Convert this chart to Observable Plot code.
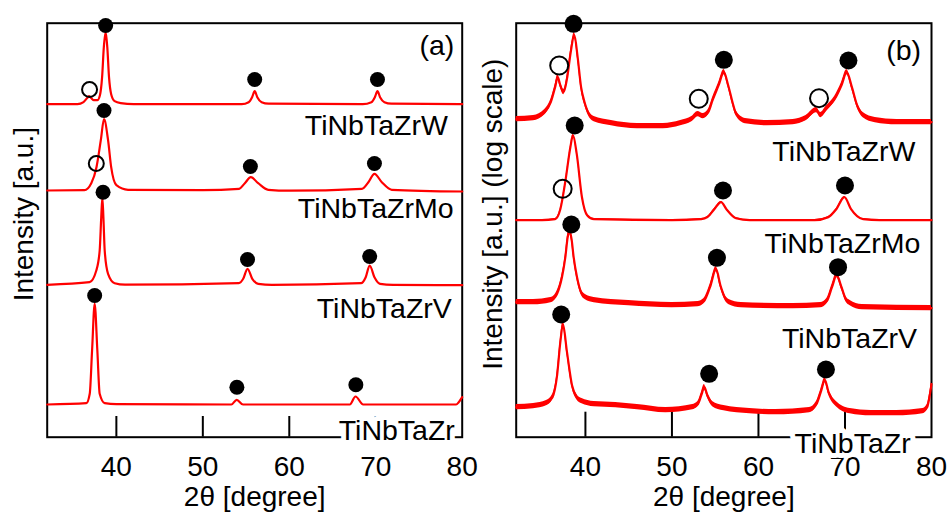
<!DOCTYPE html>
<html><head><meta charset="utf-8">
<script src="https://cdn.jsdelivr.net/npm/d3@7"></script>
<script src="https://cdn.jsdelivr.net/npm/@observablehq/plot@0.6"></script>
<style>
body{margin:0;background:#fff;}
#wrap{position:relative;width:947px;height:513px;overflow:hidden;background:#fff;}
#wrap > svg{position:absolute;top:0;}
</style></head><body><div id="wrap"></div>
<script>
// ---------- data (2θ in degrees, intensity in arbitrary offset units) ----------
const samples = ["TiNbTaZrW", "TiNbTaZrMo", "TiNbTaZrV", "TiNbTaZr"];
const xTicks = [40, 50, 60, 70, 80];
const xTitle = "2θ [degree]";
const yTitleA = "Intensity [a.u.]";
const yTitleB = "Intensity [a.u.] (log scale)";

// panel (a): linear intensity
const aW  = [[32,333],[35.5,333],[36.2,335],[36.6,339],[36.85,341],[37.1,339],[37.4,337],[37.8,337],[38.1,342],[38.35,360],[38.55,390],[38.76,405],[38.95,390],[39.15,360],[39.4,343],[39.8,336],[40.5,334],[42,333],[54.5,333],[55.3,335],[55.7,340],[56.0,346],[56.3,340],[56.8,335],[57.6,333.5],[68.5,333],[69.5,335],[69.9,340],[70.2,346],[70.5,340],[71.0,335],[71.8,333.5],[80,333]];
const aMo = [[32,246.7],[36.3,247],[37.1,254],[37.7,270],[38.2,297],[38.57,318],[39.04,297],[39.4,270],[40,252],[41.35,247.4],[50,247],[54.2,248.4],[54.86,254],[55.55,260],[56.4,254],[57.57,247.4],[60,246.5],[68.4,248.4],[69.15,255],[69.85,263.4],[70.7,255],[71.85,247.4],[80,245.7]];
const aV  = [[32,152.4],[36.9,155],[37.68,166.7],[38.07,186.7],[38.25,220],[38.38,239.7],[38.5,220],[38.65,186.7],[39.04,163.4],[39.8,154],[41,152.5],[54.17,154],[54.67,158.4],[55.17,168.4],[55.72,158.4],[56.41,153.4],[58,152.4],[68.3,154],[68.84,160],[69.3,171.7],[69.85,160],[70.5,153.4],[72,152.4],[80,152]];
const aZr = [[32,32.7],[36.53,34],[36.92,43.4],[37.19,86.7],[37.49,133.4],[37.8,86.7],[38.07,43.4],[38.65,34],[40,33],[53.3,32.7],[53.92,37.4],[54.65,32.7],[67.0,32.7],[67.66,40.7],[68.55,32.7],[79.3,32.7],[79.6,35],[80,40]];

// panel (b): log intensity
const bW  = [[32,318],[34,319],[35.3,325],[36.0,335],[36.5,350],[36.8,360],[37.1,352],[37.48,345],[37.9,360],[38.3,385],[38.72,402],[39.1,380],[39.5,350],[39.9,335],[40.2,327],[41,318],[43,314],[46,311],[49,311],[51,314],[52.3,318],[53.0,323],[53.6,321],[54.2,325],[54.7,337],[55.4,352],[56.0,365],[56.5,352],[57.0,335],[57.4,324],[58.5,316],[61,314],[64,315],[65.5,319],[66.7,327],[67.2,322],[67.8,328],[68.8,338],[69.6,352],[70.2,365],[70.8,350],[71.4,332],[72.1,322],[73.5,317],[76,315],[80,315]];
const bMo = [[32,217],[35,217],[36.5,218],[37.1,228],[37.7,257],[38.26,290],[38.56,302],[39.0,283],[39.6,240],[40.2,222],[41,218],[50,217],[53.4,218],[54.1,220],[54.9,228],[55.68,235],[56.3,228],[57.4,219],[59,217],[66.5,217],[68.07,220],[69.0,228],[69.93,240],[70.7,228],[72.1,218],[74,217],[80,217]];
const bV  = [[32,135],[34,135],[36.0,137],[36.5,140],[37.0,150],[37.29,160],[37.68,180],[37.95,200],[38.18,206],[38.4,198],[38.64,180],[39.03,160],[39.5,145],[40.0,140],[41,137],[45,134],[50,132],[53.0,133],[53.7,136],[54.4,150],[55.1,168],[55.6,152],[56.1,140],[56.6,135],[58,132],[64,131],[67.2,132],[67.9,136],[68.5,150],[69.04,162],[69.6,150],[70.1,138],[70.6,134],[72,130],[80,129]];
const bZr = [[32,30],[34,31],[35.5,34],[36.2,40],[36.7,60],[37.1,95],[37.4,113],[37.87,85],[38.45,52],[39.0,40],[39.6,36],[41,33],[43.5,32],[46,30],[49.3,27],[52.4,30],[53.0,33],[53.4,42],[53.74,50],[54.1,42],[54.7,33],[56,29],[59,26],[62,25],[65.9,27],[66.7,33],[67.2,45],[67.68,57],[68.1,45],[69.0,33],[70.6,26],[73,24],[76,24],[79.0,26],[79.5,30],[79.8,42],[80,53]];

// peak markers: filled circles and open circles
const aFilled = [[38.76,411.7],[56.0,357.7],[70.2,357.7],[38.57,326.7],[55.5,270.7],[69.85,273.7],[38.46,245],[55.17,177.7],[69.3,180.7],[37.49,141.7],[53.94,50],[67.7,52.4]];
const aOpen   = [[36.9,347.7],[37.68,273.7]];
const bFilled = [[38.63,413.4],[56.0,377.4],[70.4,376.7],[38.76,311.7],[55.9,246.7],[70.0,251.7],[38.37,212.7],[55.2,179.4],[69.2,170],[37.2,122.7],[54.3,63.4],[67.8,67.7]];
const bOpen   = [[36.97,371.7],[53.1,338.4],[67.0,339],[37.37,248.4]];

// sample-name annotations (right edge x, centre y) and panel tags
const aLabelX = [78.34, 79.0, 78.8, 79.15];
const aLabelY = [311.7, 228.7, 128.7, 6.7];
const bLabelX = [78.13, 78.71, 78.33, 77.6];
const bLabelY = [285, 193.4, 98.4, -6.3];
const tags = ["(a)", "(b)"];
const tagX = [77.07, 76.78];
const tagY = [391.7, 386.7];

// ---------- drawing ----------
const FONT = "'Liberation Sans', Arial, sans-serif";
function panel({traces, filled, open, labelX, labelY, tag, tx, ty, yTitle, tickLen, noise, lineW, r, width, mL, mR}) {
  const rows = traces.flatMap((t, i) => t.map(([x, y]) => ({name: samples[i], x, y, n: noise[i]})));
  const labels = samples.map((s, i) => ({s, x: labelX[i], y: labelY[i]}));
  const pts = a => a.map(([x, y]) => ({x, y}));
  return Plot.plot({
    width, height: 513,
    marginLeft: mL, marginRight: mR, marginTop: 22.7, marginBottom: 76.3,
    x: {domain: [32, 80]},
    y: {domain: [0, 414], axis: null},
    style: {fontFamily: FONT, fontSize: "28px", color: "black", background: "white", overflow: "visible"},
    marks: [
      Plot.frame({stroke: "black", strokeWidth: 2}),
      Plot.ruleX(xTicks.slice(0, -1), {x: d => d, y1: 0, y2: tickLen, stroke: "black", strokeWidth: 2}),
      Plot.axisX({ticks: xTicks, tickSize: 0, tickPadding: 19, label: null, fill: "black"}),
      Plot.text([xTitle], {frameAnchor: "bottom", dy: 60, textAnchor: "middle", lineAnchor: "middle", fill: "black"}),
      Plot.text([yTitle], {frameAnchor: "left", rotate: -90, dx: -23.5, dy: -16, textAnchor: "middle", lineAnchor: "middle", fill: "black"}),
      Plot.areaY(rows, {x: "x", y1: d => d.y - d.n, y2: d => d.y + d.n, z: "name", fill: "#ff0000", curve: "monotone-x"}),
      Plot.line(rows, {x: "x", y: "y", z: "name", stroke: "#ff0000", strokeWidth: lineW, curve: "monotone-x"}),
      Plot.text(labels, {x: "x", y: "y", text: "s", textAnchor: "end", lineAnchor: "middle", fontSize: 28.5, fill: "black", stroke: "white", strokeWidth: 10, paintOrder: "stroke"}),
      Plot.text([tag], {x: () => tx, y: () => ty, lineAnchor: "middle", fontSize: 28.5, fill: "black"}),
      Plot.dot(pts(filled), {x: "x", y: "y", r, fill: "black"}),
      Plot.dot(pts(open), {x: "x", y: "y", r, stroke: "black", strokeWidth: 2, fill: "none"})
    ]
  });
}

const wrap = document.getElementById("wrap");
const pa = panel({traces: [aW, aMo, aV, aZr], filled: aFilled, open: aOpen, labelX: aLabelX, labelY: aLabelY,
  tag: tags[0], tx: tagX[0], ty: tagY[0], yTitle: yTitleA, tickLen: 20.7, noise: [0, 0, 0, 0], lineW: 2.2, r: 7.5,
  width: 470, mL: 46.7, mR: 8.3});
const pb = panel({traces: [bW, bMo, bV, bZr], filled: bFilled, open: bOpen, labelX: bLabelX, labelY: bLabelY,
  tag: tags[1], tx: tagX[1], ty: tagY[1], yTitle: yTitleB, tickLen: 25, noise: [2.6, 0.6, 2.6, 2.6], lineW: 2.2, r: 9,
  width: 477, mL: 45.7, mR: 16});
pa.style.left = "0px";
pb.style.left = "470px";
wrap.appendChild(pb);
wrap.appendChild(pa);
</script></body></html>
